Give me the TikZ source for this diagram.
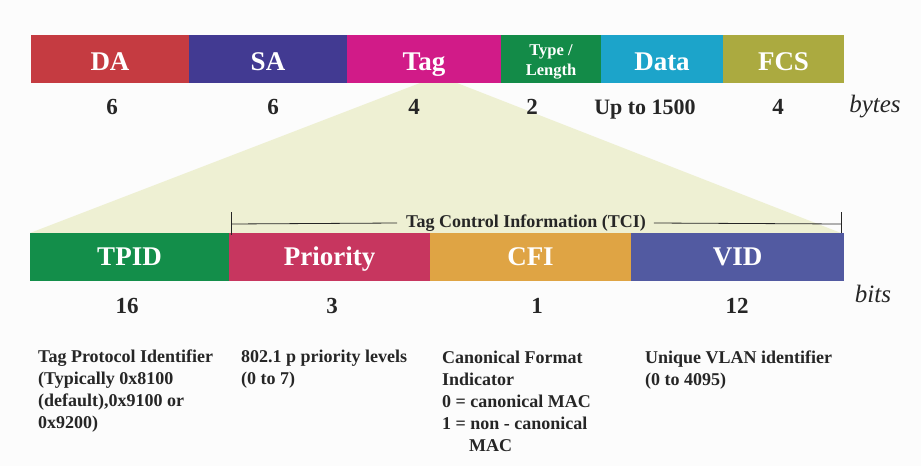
\documentclass[tikz,border=0pt]{standalone}
\usepackage{fontspec}
\setmainfont{Liberation Serif}
\definecolor{cDA}{HTML}{C53B41}
\definecolor{cSA}{HTML}{423A92}
\definecolor{cTag}{HTML}{D11B88}
\definecolor{cTL}{HTML}{138B48}
\definecolor{cData}{HTML}{1CA4CA}
\definecolor{cFCS}{HTML}{ABAA40}
\definecolor{cTPID}{HTML}{138E4A}
\definecolor{cPri}{HTML}{C7365F}
\definecolor{cCFI}{HTML}{DFA444}
\definecolor{cVID}{HTML}{525AA1}
\definecolor{cTrap}{HTML}{EEF0D3}
\definecolor{cTxt}{HTML}{262626}
\begin{document}
\begin{tikzpicture}[x=1pt,y=-1pt,
  field/.style={anchor=north west, inner sep=0pt, outer sep=0pt, minimum height=48pt,
    text=white, font=\bfseries\fontsize{27}{29}\selectfont, text depth=0pt},
  topfield/.style={field, text height=22pt},
  botfield/.style={field, text height=17pt},
  num/.style={text=cTxt, inner sep=0pt, anchor=base, font=\bfseries\fontsize{23}{25}\selectfont},
  unit/.style={text=cTxt, inner sep=0pt, anchor=base, font=\itshape\fontsize{25}{27}\selectfont},
  desc/.style={text=cTxt, anchor=north west, inner sep=0pt, align=left,
    font=\bfseries\fontsize{18}{22}\selectfont},
  bracket/.style={draw=cTxt, line width=0.8pt}]
\useasboundingbox (0,0) rectangle (921,466);
\fill[white!99!black] (0,0) rectangle (921,466);
% expansion trapezoid
\fill[cTrap] (420,83) -- (457,83) -- (841,233) -- (30,233) -- cycle;
% top row
\node[topfield, fill=cDA, minimum width=158pt] (da) at (31,35) {DA};
\node[topfield, fill=cSA, minimum width=158pt] (sa) at (189,35) {SA};
\node[topfield, fill=cTag, minimum width=154pt] (tag) at (347,35) {Tag};
\node[field, fill=cTL, minimum width=100pt,
  label={[text=white, inner sep=0pt, align=center, yshift=-3pt,
    font=\bfseries\fontsize{16.5}{20}\selectfont]center:{Type /\\Length}}] (tl) at (501,35) {};
\node[topfield, fill=cData, minimum width=122pt] (data) at (601,35) {Data};
\node[topfield, fill=cFCS, minimum width=121pt] (fcs) at (723,35) {FCS};
% byte counts
\node[num] (n1) at (112,114) {6};
\node[num] (n2) at (273,114) {6};
\node[num] (n3) at (414,114) {4};
\node[num] (n4) at (532,114) {2};
\node[num, font=\bfseries\fontsize{22}{24}\selectfont] (n5) at (645,114) {Up to 1500};
\node[num] (n6) at (778,114) {4};
\node[unit] (bytes) at (875,112) {bytes};
% bottom row
\node[botfield, fill=cTPID, minimum width=199pt] (tpid) at (30,233) {TPID};
\node[botfield, fill=cPri, minimum width=201pt] (pri) at (229,233) {Priority};
\node[botfield, fill=cCFI, minimum width=201pt] (cfi) at (430,233) {CFI};
\node[botfield, fill=cVID, minimum width=213pt] (vid) at (631,233) {VID};
% TCI bracket
\node[text=cTxt, inner sep=0pt, font=\bfseries\fontsize{18}{20}\selectfont] (tci) at (526,223) {Tag Control Information (TCI)};
\coordinate (bl) at (231,224);
\coordinate (br) at (841,224);
\draw[bracket] (231,212) -- (231,235);
\draw[bracket] (841,212) -- (841,233);
\draw[bracket] (bl) -- ([xshift=-9pt]tci.west);
\draw[bracket] ([xshift=8pt]tci.east) -- (br);
% bit counts
\node[num] (b1) at (127,313) {16};
\node[num] (b2) at (332,313) {3};
\node[num] (b3) at (537,313) {1};
\node[num] (b4) at (737,313) {12};
\node[unit] (bits) at (873,302) {bits};
% descriptions
\node[desc] (d1) at (38,349.5) {Tag Protocol Identifier\\(Typically 0x8100\\(default),0x9100 or\\0x9200)};
\node[desc] (d2) at (241,349.5) {802.1 p priority levels\\(0 to 7)};
\node[desc] (d3) at (442,350.5) {Canonical Format\\Indicator\\0 = canonical MAC\\1 = non - canonical\\\hspace*{27pt}MAC};
\node[desc] (d4) at (645,350.5) {Unique VLAN identifier\\(0 to 4095)};
\end{tikzpicture}
\end{document}
